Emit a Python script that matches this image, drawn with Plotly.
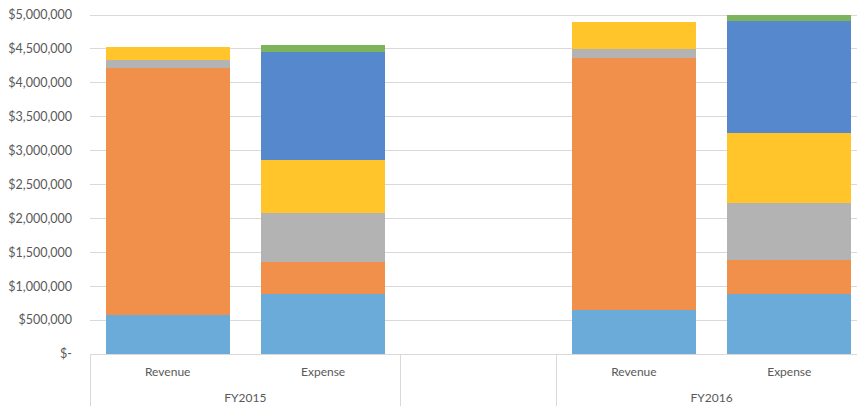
import plotly.graph_objects as go

years = ["FY2015", "FY2015", " ", "FY2016", "FY2016"]
kinds = ["Revenue", "Expense", " ", "Revenue", "Expense"]

series_names = ["Series 1", "Series 2", "Series 3", "Series 4", "Series 5", "Series 6"]
s1 = [575000, 890000, None, 643000, 890000]
s2 = [3650000, 474000, None, 3717000, 499000]
s3 = [115000, 712000, None, 143000, 838000]
s4 = [190000, 790000, None, 395000, 1033000]
s5 = [0, 1590000, None, 0, 1648000]
s6 = [0, 100000, None, 0, 87000]
colors = ["#6aabd9", "#f0904a", "#b3b3b3", "#ffc52b", "#5588cc", "#7db35a"]

tick_vals = [0, 500000, 1000000, 1500000, 2000000, 2500000, 3000000, 3500000, 4000000, 4500000, 5000000]
tick_text = ["$-", "$500,000", "$1,000,000", "$1,500,000", "$2,000,000", "$2,500,000",
             "$3,000,000", "$3,500,000", "$4,000,000", "$4,500,000", "$5,000,000"]

# inner labels get an empty second line so the outer (year) row sits lower, as in the reference
inner_labels = [k + "<br> " for k in kinds]

fig = go.Figure()
for name, vals, col in zip(series_names, [s1, s2, s3, s4, s5, s6], colors):
    fig.add_trace(go.Bar(x=[years, inner_labels], y=vals, name=name, marker_color=col,
                         marker_line_width=0))

font = dict(family="Lato, Open Sans, sans-serif", size=12, color="#595959")
# the page places the figure 8px in from the top-left corner, so margins compensate for it
fig.update_layout(
    width=865, height=410, barmode="stack", bargap=0.2, showlegend=False,
    margin=dict(l=82, r=6, t=6, b=64),
    plot_bgcolor="white", paper_bgcolor="white", font=font,
)
fig.update_xaxes(type="multicategory", showline=True, linecolor="#d9d9d9", linewidth=1,
                 showdividers=True, dividercolor="#d9d9d9", dividerwidth=1, ticks="",
                 ticklabelstandoff=7, tickfont=font, automargin=False,
                 ticklabeloverflow="allow")
fig.update_yaxes(range=[0, 5015000], tickvals=tick_vals, ticktext=tick_text,
                 showgrid=True, gridcolor="#d9d9d9", gridwidth=1, zeroline=False,
                 ticks="", ticklen=0, ticklabelstandoff=17, automargin=False,
                 ticklabeloverflow="allow",
                 tickfont=dict(family="Lato, Open Sans, sans-serif", size=12.5, color="#595959"))
fig.write_html("out.html")
